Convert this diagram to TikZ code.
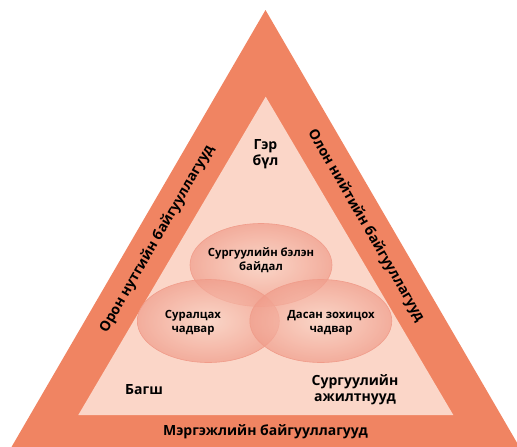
\documentclass[tikz,border=0pt]{standalone}
\usepackage{fontspec}
\setmainfont{Open Sans}
\usetikzlibrary{shapes.geometric}
\definecolor{bandorange}{HTML}{F08462}
\definecolor{innerpink}{HTML}{FBD6C8}
\definecolor{ringedge}{HTML}{F09C8A}
\definecolor{ringlight}{HTML}{FAD6C8}

\begin{document}
\begin{tikzpicture}
            [x=1pt, y=-1pt,
              big/.style={font=\bfseries\fontsize{14}{16}\selectfont,
                align=center, inner sep=0pt},
              sml/.style={font=\bfseries\fontsize{11.3}{14}\selectfont,
                align=center, inner sep=0pt},
              ring/.style={ellipse, draw=ringedge, line width=0.6pt,
                minimum width=142pt, minimum height=83pt, inner sep=0pt,
                shading=radial, inner color=ringlight, outer color=ringedge,
                fill opacity=0.7}]
            \useasboundingbox (0,0) rectangle (517,447);
            % outer band and inner field
            \fill[bandorange] (265.5,10) -- (519.5,447) -- (11.5,447) -- cycle;
            \fill[innerpink] (265.7,96.7) -- (453.3,415) -- (78.3,415) -- cycle;
            % the three rings
            \node[ring] (r1) at (261,265) {};
            \node[ring] (r2) at (208.3,321) {};
            \node[ring] (r3) at (320.8,321) {};
            \node[sml] (t1) at (261,260) {Сургуулийн бэлэн\\байдал};
            \node[sml] (t2) at (193,323) {Суралцах\\чадвар};
            \node[sml] (t3) at (331,323) {Дасан зохицох\\чадвар};
            % corners
            \node[big] (ger) at (265.5,154) {Гэр\\бүл};
            \node[big] (bagsh) at (144,390) {Багш};
            \node[big] (ajil) at (355,390) {Сургуулийн\\ажилтнууд};
            % band labels
            \node[big, rotate=60] (oron) at (157,239) {Орон нутгийн байгууллагууд};
            \node[big, rotate=-60] (olon) at (366,226) {Олон нийтийн байгууллагууд};
            \node[big] (merg) at (265.5,432) {Мэргэжлийн байгууллагууд};
        \end{tikzpicture}
\end{document}
